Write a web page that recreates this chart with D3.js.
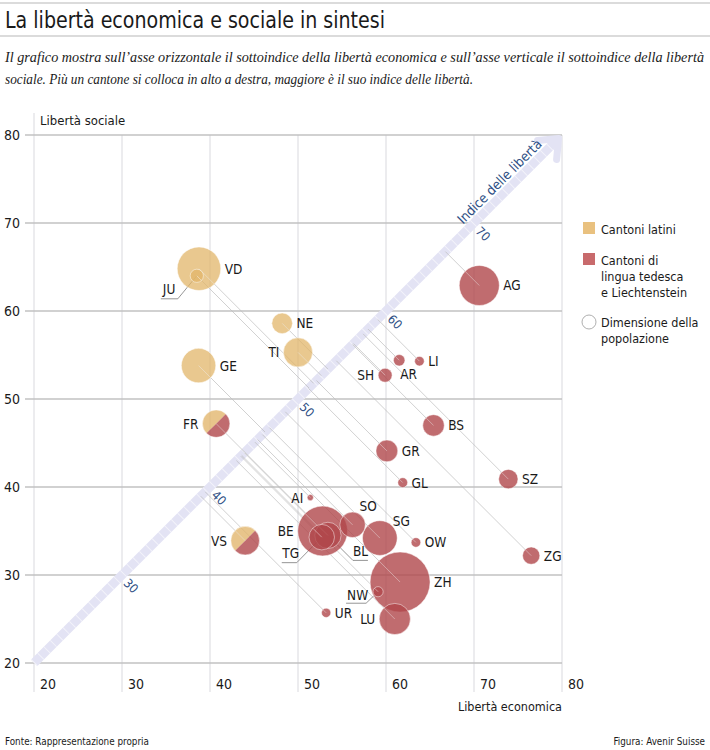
<!DOCTYPE html>
<html>
<head>
<meta charset="utf-8">
<script src="https://cdn.jsdelivr.net/npm/d3@7"></script>
<style>
  body { margin: 0; background: #fff; }
  svg text { font-family: 'DejaVu Sans Condensed', 'Liberation Sans Narrow', 'Roboto', sans-serif; fill: #1a1a1a; }
  .sub { font-family: 'Liberation Serif', 'DejaVu Serif', serif !important; font-style: italic; }
</style>
</head>
<body>
<svg id="chart" width="710" height="750"></svg>
<script>
// canton data; population in thousands drives bubble size
const cantons = ["VD", "JU", "NE", "TI", "GE", "FR", "VS", "AG", "AR", "LI", "SH", "BS", "GR", "GL",
    "SZ", "ZG", "AI", "BE", "SO", "TG", "BL", "SG", "OW", "ZH", "NW", "LU", "UR"];
const economic = [38.75, 38.5, 48.2, 50.0, 38.7, 40.7, 44.0, 70.6, 61.5, 63.8, 59.9, 65.4, 60.1, 61.9,
    73.9, 76.5, 51.4, 52.8, 56.2, 52.7, 53.4, 59.3, 63.4, 61.6, 59.1, 61.0, 53.2];
const social = [64.8, 64.0, 58.6, 55.3, 53.8, 47.2, 33.9, 62.9, 54.4, 54.3, 52.7, 47.0, 44.1, 40.5,
    40.9, 32.2, 38.8, 35.0, 35.7, 34.3, 34.5, 34.2, 33.7, 29.2, 28.1, 25.0, 25.7];
const population = [792, 73, 178, 354, 495, 315, 341, 670, 55, 38, 81, 193, 198, 40,
    157, 125, 16, 1035, 272, 271, 288, 504, 38, 1504, 43, 406, 36];
// L = cantoni latini, D = lingua tedesca, M = bilingue
const language = ["L", "L", "L", "L", "L", "M", "M", "D", "D", "D", "D", "D", "D", "D",
    "D", "D", "D", "D", "D", "D", "D", "D", "D", "D", "D", "D", "D"];

const axisTicks = [20, 30, 40, 50, 60, 70, 80];
const indexTicks = [30, 40, 50, 60, 70];
const legendItems = [
    { key: "L", lines: ["Cantoni latini"] },
    { key: "D", lines: ["Cantoni di", "lingua tedesca", "e Liechtenstein"] },
    { key: "P", lines: ["Dimensione della", "popolazione"] }
];

const colors = { L: "#e2b56a", D: "#b0474b" };
const legendColors = { L: "#e9c17f", D: "#c86a6c" };
const indexBlue = "#2f4f85";
const band = "#e3e3f4";

const svg = d3.select("#chart");

const x = d3.scaleLinear().domain([20, 80]).range([34, 562]);
const y = d3.scaleLinear().domain([20, 80]).range([663, 135]);
const r = d3.scaleSqrt().domain([0, 1504]).range([0, 30]);

const data = cantons.map((c, i) => ({
    id: c, ex: economic[i], so: social[i], pop: population[i], lang: language[i],
    cx: x(economic[i]), cy: y(social[i]), r: r(population[i])
}));

// Header
svg.append("line").attr("x1", 0).attr("x2", 710).attr("y1", 3).attr("y2", 3)
    .attr("stroke", "#cfcfcf").attr("stroke-width", 1.5);
svg.append("text").attr("x", 5).attr("y", 28)
    .style("font-size", "23px")
    .attr("textLength", 380).attr("lengthAdjust", "spacingAndGlyphs")
    .text("La libertà economica e sociale in sintesi");
svg.append("line").attr("x1", 0).attr("x2", 710).attr("y1", 36).attr("y2", 36)
    .attr("stroke", "#cfcfcf").attr("stroke-width", 1.5);

svg.append("text").attr("class", "sub").attr("x", 5).attr("y", 62)
    .style("font-size", "13.8px")
    .attr("textLength", 699).attr("lengthAdjust", "spacingAndGlyphs")
    .text("Il grafico mostra sull’asse orizzontale il sottoindice della libertà economica e sull’asse verticale il sottoindice della libertà");
svg.append("text").attr("class", "sub").attr("x", 5).attr("y", 84)
    .style("font-size", "13.8px")
    .attr("textLength", 468).attr("lengthAdjust", "spacingAndGlyphs")
    .text("sociale. Più un cantone si colloca in alto a destra, maggiore è il suo indice delle libertà.");

// Grid
const grid = svg.append("g");
grid.selectAll(".vgrid").data(axisTicks).join("line")
    .attr("x1", d => x(d)).attr("x2", d => x(d))
    .attr("y1", d => d === 20 ? 113 : y(80)).attr("y2", 692)
    .attr("stroke", "#d9d9de").attr("stroke-width", 1);
grid.selectAll(".hgrid").data(axisTicks).join("line")
    .attr("x1", 25).attr("x2", x(80))
    .attr("y1", d => y(d)).attr("y2", d => y(d))
    .attr("stroke", "#c2c2c2").attr("stroke-width", 1.4);

svg.selectAll(".ytick").data(axisTicks).join("text")
    .attr("x", 4).attr("y", d => y(d) + 5)
    .style("font-size", "14px").text(d => d);
svg.selectAll(".xtick").data(axisTicks).join("text")
    .attr("x", d => x(d) + 6).attr("y", 689)
    .style("font-size", "14px").text(d => d);

svg.append("text").attr("x", 40).attr("y", 125).style("font-size", "13px").text("Libertà sociale");
svg.append("text").attr("x", 562).attr("y", 711).attr("text-anchor", "end")
    .style("font-size", "12.5px").text("Libertà economica");

// Index arrow (diagonal)
const tipV = 79.5;
const arrow = svg.append("g");
arrow.append("line")
    .attr("x1", x(20)).attr("y1", y(20)).attr("x2", x(tipV)).attr("y2", y(tipV))
    .attr("stroke", band).attr("stroke-width", 9);
arrow.append("line")
    .attr("x1", x(20)).attr("y1", y(20)).attr("x2", x(tipV) - 6).attr("y2", y(tipV) + 6)
    .attr("stroke", "#fff").attr("stroke-width", 9).attr("stroke-opacity", 0.55)
    .attr("stroke-dasharray", "1,8");
arrow.append("polyline")
    .attr("points", [[x(tipV) - 20, y(tipV) + 1], [x(tipV) + 1, y(tipV) - 1], [x(tipV) - 1, y(tipV) + 20]].join(" "))
    .attr("fill", "none").attr("stroke", band).attr("stroke-width", 7)
    .attr("stroke-linecap", "round").attr("stroke-linejoin", "round");

arrow.selectAll(".idx").data(indexTicks).join("text")
    .attr("transform", d => `translate(${x(d) + 9},${y(d) + 11}) rotate(45)`)
    .attr("text-anchor", "middle").attr("dy", "0.35em")
    .style("font-size", "12.5px").style("fill", indexBlue).text(d => d);
arrow.append("text")
    .attr("transform", `translate(${x(73.8) - 8},${y(73.8) - 8}) rotate(-45)`)
    .attr("text-anchor", "middle").attr("dy", "0.35em")
    .style("font-size", "13.5px").style("fill", indexBlue).text("Indice delle libertà");

// Projection lines to the diagonal
const foot = d => { const v = (d.ex + d.so) / 2; return [x(v), y(v)]; };
svg.append("g").selectAll("line").data(data).join("line")
    .attr("x1", d => d.cx).attr("y1", d => d.cy)
    .attr("x2", d => foot(d)[0]).attr("y2", d => foot(d)[1])
    .attr("stroke", "#bdbdbd").attr("stroke-width", 0.7);

// Leader lines for labels that sit away from their bubble
const leaders = {
    JU: { tx: -34, ty: 18.5, path: [[-36, 23], [-19, 23]] },
    TG: { tx: -39.5, ty: 20.5, path: [[-40, 25.5], [-25, 25.5]] },
    NW: { tx: -31, ty: 8, path: [[-32, 11.5], [-12, 11.5]] },
    BL: { tx: 25, ty: 21, path: [[40, 25], [25, 25]] }
};
svg.append("g").selectAll("polyline").data(data.filter(d => leaders[d.id])).join("polyline")
    .attr("points", d => leaders[d.id].path.map(p => [d.cx + p[0], d.cy + p[1]]).concat([[d.cx, d.cy]]).join(" "))
    .attr("fill", "none").attr("stroke", "#7a7a7a").attr("stroke-width", 0.8);

// Bubbles
const bubbles = svg.append("g");
const sorted = data.slice().sort((a, b) => b.r - a.r);
sorted.forEach(d => {
    const g = bubbles.append("g").attr("transform", `translate(${d.cx},${d.cy})`);
    if (d.lang === "M") {
        const arc = d3.arc().innerRadius(0).outerRadius(d.r);
        g.append("path").attr("d", arc({ startAngle: 5 * Math.PI / 4, endAngle: 9 * Math.PI / 4 }))
            .attr("fill", colors.L).attr("fill-opacity", 0.78);
        g.append("path").attr("d", arc({ startAngle: Math.PI / 4, endAngle: 5 * Math.PI / 4 }))
            .attr("fill", colors.D).attr("fill-opacity", 0.8);
        g.append("circle").attr("r", d.r).attr("fill", "none")
            .attr("stroke", "#fff").attr("stroke-opacity", 0.6).attr("stroke-width", 0.8);
    } else {
        g.append("circle").attr("r", d.r)
            .attr("fill", colors[d.lang]).attr("fill-opacity", d.lang === "L" ? 0.75 : 0.8)
            .attr("stroke", "#fff").attr("stroke-opacity", 0.6).attr("stroke-width", 0.8);
    }
    // light segment of the projection line inside the bubble
    const [fx, fy] = foot(d);
    const dist = Math.hypot(fx - d.cx, fy - d.cy);
    if (dist > 0) {
        const len = Math.min(d.r, dist);
        g.append("line").attr("x1", 0).attr("y1", 0)
            .attr("x2", (fx - d.cx) / dist * len).attr("y2", (fy - d.cy) / dist * len)
            .attr("stroke", "#fff").attr("stroke-opacity", 0.6).attr("stroke-width", 0.7);
    }
});

// Labels
const labelPlace = {
    TI: "l", FR: "l", VS: "l", SH: "l", AI: "l", BE: "l", LU: "l",
    SO: "so", SG: "sg", AR: "below"
};
svg.append("g").selectAll("text").data(data).join("text")
    .style("font-size", "13.5px")
    .attr("x", d => {
        if (leaders[d.id]) return d.cx + leaders[d.id].tx;
        const p = labelPlace[d.id];
        if (p === "l") return d.cx - d.r - 4;
        if (p === "so") return d.cx + 7;
        if (p === "sg") return d.cx + 13;
        if (p === "below") return d.cx + 1;
        return d.cx + d.r + 4;
    })
    .attr("y", d => {
        if (leaders[d.id]) return d.cy + leaders[d.id].ty;
        const p = labelPlace[d.id];
        if (p === "so") return d.cy - d.r - 1;
        if (p === "sg") return d.cy - 12;
        if (p === "below") return d.cy + 19;
        return d.cy + 5;
    })
    .attr("text-anchor", d => labelPlace[d.id] === "l" && !leaders[d.id] ? "end" : "start")
    .text(d => d.id);

// Legend
const legend = svg.append("g").attr("transform", "translate(583,222)");
const rowY = [0, 31, 93];
legendItems.forEach((item, i) => {
    const g = legend.append("g").attr("transform", `translate(0,${rowY[i]})`);
    if (item.key === "P") {
        g.append("circle").attr("cx", 6).attr("cy", 7).attr("r", 7)
            .attr("fill", "#fff").attr("stroke", "#9a9a9a").attr("stroke-width", 0.8);
    } else {
        g.append("rect").attr("width", 12).attr("height", 12).attr("fill", legendColors[item.key]);
    }
    item.lines.forEach((t, j) => {
        g.append("text").attr("x", 18).attr("y", 12 + j * 16)
            .style("font-size", "12.5px").text(t);
    });
});

// Footer
svg.append("text").attr("x", 5).attr("y", 745).style("font-size", "9.8px")
    .text("Fonte: Rappresentazione propria");
svg.append("text").attr("x", 705).attr("y", 745).attr("text-anchor", "end")
    .style("font-size", "9.8px").text("Figura: Avenir Suisse");
</script>
</body>
</html>
